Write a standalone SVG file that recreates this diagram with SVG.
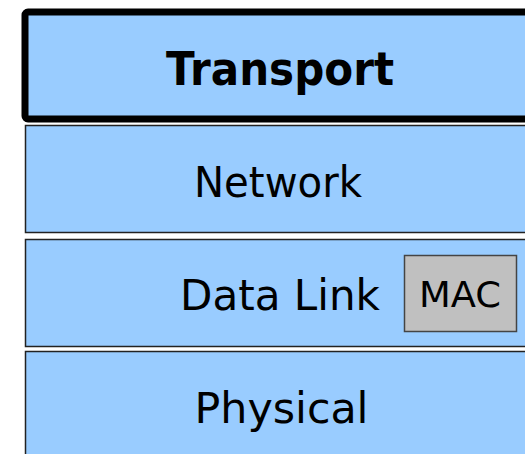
<svg xmlns="http://www.w3.org/2000/svg" width="525" height="454" viewBox="0 0 525 454">
<style>
.layer{fill:#99ccff;stroke:#222;stroke-width:1.5}
.t{font-family:"DejaVu Sans",sans-serif;fill:#000;text-anchor:middle}
</style>
<rect width="525" height="454" fill="#fff"/>
<g id="transport">
<rect x="25" y="12" width="520" height="107" rx="3" fill="#99ccff" stroke="#000" stroke-width="7"/>
<text class="t" x="280" y="85" font-size="47" font-weight="bold" textLength="228" lengthAdjust="spacingAndGlyphs">Transport</text>
</g>
<g id="network">
<rect class="layer" x="25.5" y="125.5" width="520" height="107"/>
<text class="t" x="278" y="197" font-size="42" textLength="168" lengthAdjust="spacingAndGlyphs">Network</text>
</g>
<g id="datalink">
<rect class="layer" x="25.5" y="239.5" width="520" height="107"/>
<text class="t" x="280" y="310" font-size="42" textLength="200" lengthAdjust="spacingAndGlyphs">Data Link</text>
</g>
<g id="mac">
<rect x="404.5" y="255.5" width="112" height="76" fill="#c0c0c0" stroke="#444" stroke-width="1.5"/>
<text class="t" x="460" y="307" font-size="35" textLength="82" lengthAdjust="spacingAndGlyphs">MAC</text>
</g>
<g id="physical">
<rect class="layer" x="25.5" y="351.5" width="520" height="120"/>
<text class="t" x="281.5" y="423" font-size="42" textLength="174" lengthAdjust="spacingAndGlyphs">Physical</text>
</g>
<g id="connectors"></g>
</svg>
